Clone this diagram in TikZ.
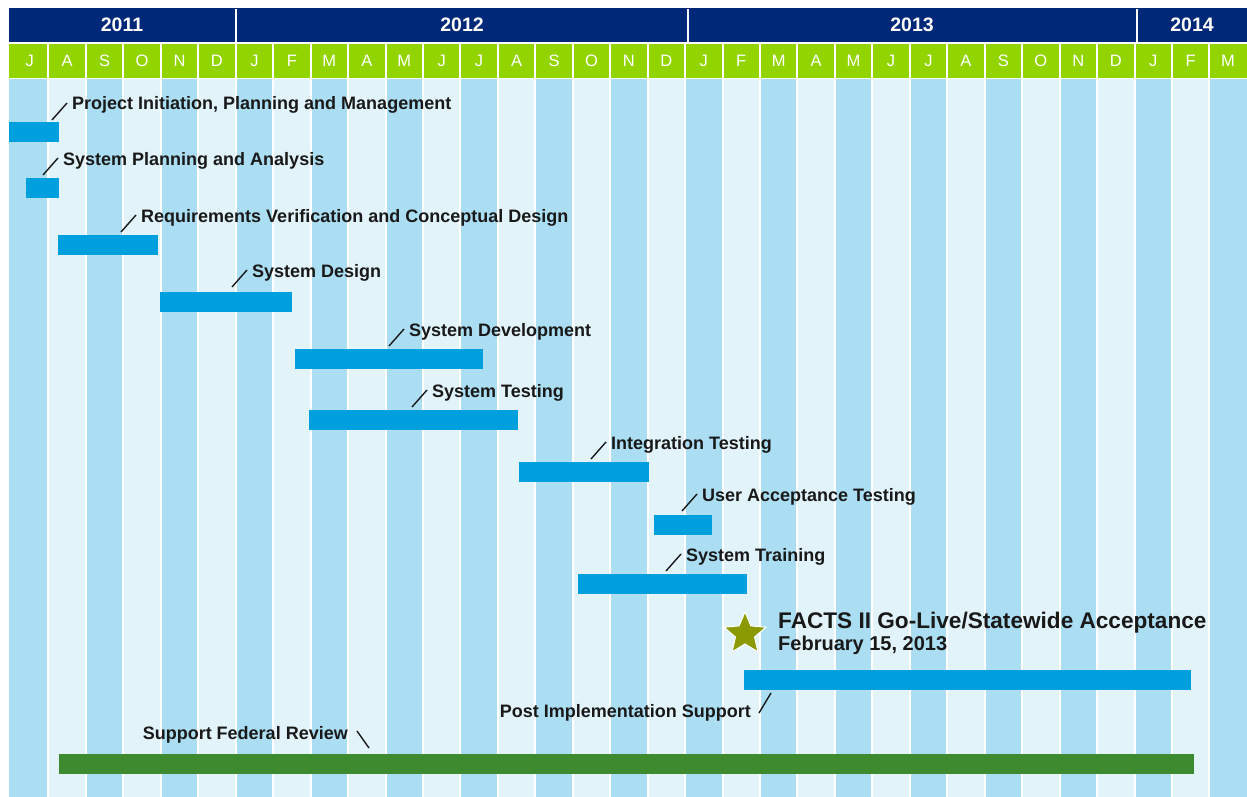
\documentclass[tikz,border=0pt]{standalone}
\usepackage{fontspec}
\setmainfont{Liberation Sans}
\usetikzlibrary{calc,shapes.geometric}

\definecolor{hdrnavy}{RGB}{0,40,120}
\definecolor{hdrgreen}{RGB}{146,212,0}
\definecolor{coldark}{RGB}{171,222,242}
\definecolor{colpale}{RGB}{226,243,250}
\definecolor{barblue}{RGB}{0,160,222}
\definecolor{bargreen}{RGB}{62,139,47}
\definecolor{starolive}{RGB}{138,154,0}

\begin{document}
\begin{tikzpicture}[x=1pt,y=-1pt]
\tikzstyle{taskbar} = [rectangle, fill=barblue, anchor=north west,
minimum height=20pt, inner sep=0pt, outer sep=0pt]
\tikzstyle{tasktext} = [anchor=base west, inner sep=0pt,
font=\fontsize{18}{20}\selectfont\bfseries, text=black!90]
\tikzstyle{leader} = [draw, black!90, line width=1.4pt]
\tikzstyle{monthtext} = [text=white, font=\fontsize{16.5}{18}\selectfont]
\tikzstyle{yeartext} = [text=white, font=\fontsize{19.5}{22}\selectfont\bfseries]
\useasboundingbox (0,0) rectangle (1247,797);
\fill[white] (0,0) rectangle (1247,797);

% header band
\fill[hdrnavy] (9,8) rectangle (1247,42);
\foreach \yx in {236,688,1137}
  \draw[white, line width=1.5pt] (\yx,9) -- (\yx,42);
\node[yeartext] (y2011) at (122,25) {2011};
\node[yeartext] (y2012) at (462,25) {2012};
\node[yeartext] (y2013) at (912,25) {2013};
\node[yeartext] (y2014) at (1192,25) {2014};

% month columns
\foreach \i in {0,...,32} {
  \pgfmathsetmacro{\xl}{ifthenelse(\i==0,9,12+37.45*\i)}
  \pgfmathsetmacro{\xr}{ifthenelse(\i==32,1247,12+37.45*(\i+1)-2)}
  \pgfmathtruncatemacro{\odd}{mod(\i,2)}
  \ifnum\odd=0 \fill[coldark] (\xl,79) rectangle (\xr,797);
  \else \fill[colpale] (\xl,79) rectangle (\xr,797); \fi
  \fill[hdrgreen] (\xl,44) rectangle (\xr,78);
}
\foreach \m [count=\i from 0] in {J,A,S,O,N,D,J,F,M,A,M,J,J,A,S,O,N,D,J,F,M,A,M,J,J,A,S,O,N,D,J,F,M}
  \node[monthtext] (m\i) at (12+37.45*\i+17.7,61) {\m};

% tasks
\node[taskbar, minimum width=50pt] (pipm) at (9,122) {};
\node[tasktext] (pipmt) at (72,110) {Project Initiation, Planning and Management};
\draw[leader] ($(pipmt.base west)+(-5,-7)$) -- ++(-15,17);

\node[taskbar, minimum width=33pt] (spa) at (26,178) {};
\node[tasktext] (spat) at (63,165) {System Planning and Analysis};
\draw[leader] ($(spat.base west)+(-5,-7)$) -- ++(-15,17);

\node[taskbar, minimum width=100pt] (rvcd) at (58,235) {};
\node[tasktext] (rvcdt) at (141,222) {Requirements Verification and Conceptual Design};
\draw[leader] ($(rvcdt.base west)+(-5,-7)$) -- ++(-15,17);

\node[taskbar, minimum width=132pt] (sdes) at (160,292) {};
\node[tasktext] (sdest) at (252,277) {System Design};
\draw[leader] ($(sdest.base west)+(-5,-7)$) -- ++(-15,17);

\node[taskbar, minimum width=188pt] (sdev) at (295,349) {};
\node[tasktext] (sdevt) at (409,336) {System Development};
\draw[leader] ($(sdevt.base west)+(-5,-7)$) -- ++(-15,17);

\node[taskbar, minimum width=209pt] (stest) at (309,410) {};
\node[tasktext] (stestt) at (432,397) {System Testing};
\draw[leader] ($(stestt.base west)+(-5,-7)$) -- ++(-15,17);

\node[taskbar, minimum width=130pt] (itest) at (519,462) {};
\node[tasktext] (itestt) at (611,449) {Integration Testing};
\draw[leader] ($(itestt.base west)+(-5,-7)$) -- ++(-15,17);

\node[taskbar, minimum width=58pt] (uat) at (654,515) {};
\node[tasktext] (uatt) at (702,501) {User Acceptance Testing};
\draw[leader] ($(uatt.base west)+(-5,-7)$) -- ++(-15,17);

\node[taskbar, minimum width=169pt] (strain) at (578,574) {};
\node[tasktext] (straint) at (686,561) {System Training};
\draw[leader] ($(straint.base west)+(-5,-7)$) -- ++(-15,17);

% go-live milestone
\node[star, star points=5, star point ratio=2.2, fill=starolive, draw=white,
line width=1pt, minimum size=44pt, inner sep=0pt] (golive) at (745,634) {};
\node[anchor=base west, inner sep=0pt, text=black!90,
font=\fontsize{22.6}{24}\selectfont\bfseries] (golivet) at (778,628)
{FACTS II Go-Live/Statewide Acceptance};
\node[anchor=base west, inner sep=0pt, text=black!90,
font=\fontsize{20}{22}\selectfont\bfseries] (golived) at (778,650)
{February 15, 2013};

\node[taskbar, minimum width=447pt] (pis) at (744,670) {};
\node[tasktext, anchor=base east] (pist) at (751,717) {Post Implementation Support};
\draw[leader] ($(pist.base east)+(8,-4)$) -- ++(12,-20);

\node[taskbar, fill=bargreen, minimum width=1135pt] (sfr) at (59,754) {};
\node[tasktext, anchor=base east] (sfrt) at (348,739) {Support Federal Review};
\draw[leader] ($(sfrt.base east)+(9,-8)$) -- ++(12,17);
\end{tikzpicture}
\end{document}
